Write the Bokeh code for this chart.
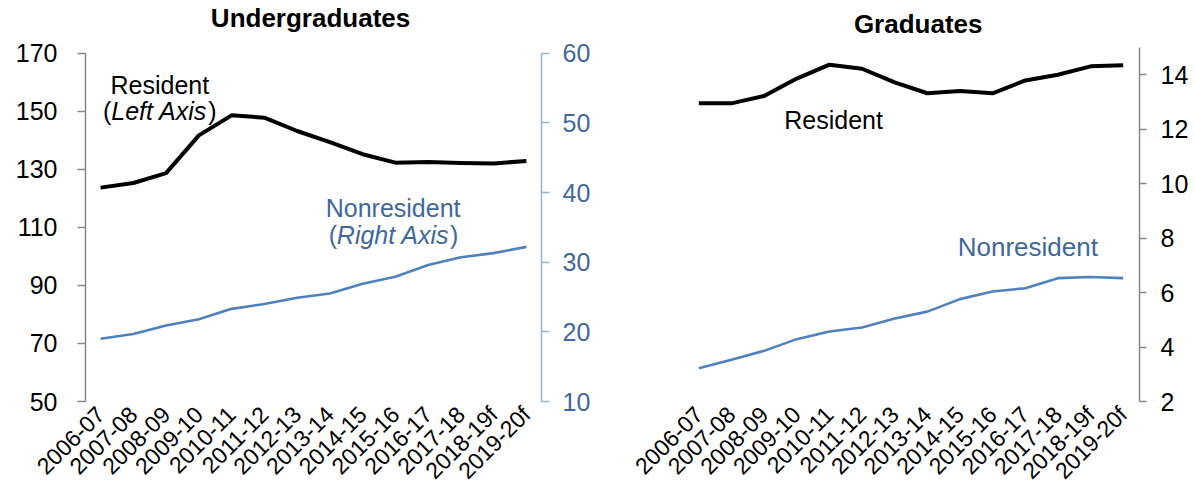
import math
from bokeh.plotting import figure
from bokeh.models import Range1d, LinearAxis, FixedTicker, Label
from bokeh.layouts import row
from bokeh.embed import file_html
from bokeh.resources import INLINE

# ---- data ----
years = ["2006-07", "2007-08", "2008-09", "2009-10", "2010-11", "2011-12", "2012-13",
         "2013-14", "2014-15", "2015-16", "2016-17", "2017-18", "2018-19f", "2019-20f"]
ug_resident = [123.7, 125.3, 128.7, 141.7, 148.6, 147.8, 143.2, 139.4, 135.2, 132.3,
               132.5, 132.2, 132.0, 132.9]
ug_nonresident = [19.0, 19.7, 20.9, 21.8, 23.3, 24.0, 24.9, 25.5, 26.9, 27.9, 29.6,
                  30.7, 31.3, 32.2]
gr_resident = [12.95, 12.95, 13.22, 13.86, 14.37, 14.22, 13.72, 13.32, 13.40, 13.32,
               13.79, 14.0, 14.31, 14.35]
gr_nonresident = [3.22, 3.53, 3.86, 4.29, 4.57, 4.72, 5.05, 5.30, 5.76, 6.04, 6.16,
                  6.53, 6.57, 6.53]
ug_left_ticks = [50, 70, 90, 110, 130, 150, 170]
ug_right_ticks = [10, 20, 30, 40, 50, 60]
gr_ticks = [2, 4, 6, 8, 10, 12, 14]
titles = ["Undergraduates", "Graduates"]

FONT = "Liberation Sans"
BLACK = "#000000"
BLUE = "#4F81BD"
BLUE_TEXT = "#41689C"
BLUE_AXIS = "#95B3D7"
GREY = "#868686"
xs = list(range(len(years)))
LIFT = 9  # pixels: baseline correction for labels


def style_common(p):
    p.outline_line_color = None
    p.xgrid.visible = False
    p.ygrid.visible = False
    p.background_fill_color = "white"
    p.border_fill_color = "white"
    xa = p.xaxis[0]
    xa.ticker = FixedTicker(ticks=xs)
    xa.major_label_overrides = {i: y for i, y in enumerate(years)}
    xa.major_label_orientation = math.pi / 4
    xa.axis_line_color = None
    xa.major_tick_line_color = None
    xa.minor_tick_line_color = None
    xa.major_label_text_font = FONT
    xa.major_label_text_font_size = "23px"
    xa.major_label_text_color = BLACK
    xa.major_label_standoff = 3


def style_y(ax, ticks, bounds, line_color, label_color, tick_out, standoff):
    ax.ticker = FixedTicker(ticks=ticks)
    ax.bounds = bounds
    ax.axis_line_color = line_color
    ax.axis_line_width = 1.5
    ax.major_tick_line_color = line_color
    ax.major_tick_line_width = 1.5
    ax.major_tick_in = 0
    ax.major_tick_out = tick_out
    ax.minor_tick_line_color = None
    ax.major_label_text_font = FONT
    ax.major_label_text_font_size = "25px"
    ax.major_label_text_color = label_color
    ax.major_label_standoff = standoff


def add_text(p, x, y, text, color, style="normal", align="center", x_offset=0,
             size="25px"):
    p.add_layout(Label(x=x, y=y, text=text, text_align=align, text_baseline="alphabetic",
                       text_font=FONT, text_font_size=size, text_font_style=style,
                       text_color=color, x_offset=x_offset, y_offset=LIFT))


def add_paren_text(p, x, y, inner, color, inner_width):
    half = inner_width / 2.0
    add_text(p, x, y, inner, color, style="italic", align="center")
    add_text(p, x, y, "(", color, align="right", x_offset=-half)
    add_text(p, x, y, ")", color, align="left", x_offset=half + 1)


# ---- Undergraduates ----
# frame spans the full height above the axis; axis lines are bounded to the data span
p1 = figure(width=600, height=499, output_backend="svg", toolbar_location=None,
            x_range=Range1d(-0.46, 13.46), y_range=Range1d(50, 188.17),
            min_border_left=85, min_border_right=59, min_border_top=0,
            min_border_bottom=96)
p1.extra_y_ranges = {"right": Range1d(10, 67.57)}
style_common(p1)
style_y(p1.yaxis[0], ug_left_ticks, (50, 170), GREY, BLACK, 8, 20)
ax_r = LinearAxis(y_range_name="right")
style_y(ax_r, ug_right_ticks, (10, 60), BLUE_AXIS, BLUE_TEXT, 8, 13)
p1.add_layout(ax_r, "right")

p1.line(xs, ug_resident, line_color=BLACK, line_width=4, line_join="round")
p1.line(xs, ug_nonresident, line_color=BLUE, line_width=2.6, line_join="round",
        y_range_name="right")

add_text(p1, 6.41, 179.0, titles[0], BLACK, style="bold", size="26px")
add_text(p1, 1.81, 156.1, "Resident", BLACK)
add_paren_text(p1, 1.79, 146.9, "Left Axis", BLACK, 96)
add_text(p1, 8.93, 113.6, "Nonresident", BLUE_TEXT)
add_paren_text(p1, 8.93, 104.1, "Right Axis", BLUE_TEXT, 112)

# ---- Graduates ----
p2 = figure(width=595, height=499, output_backend="svg", toolbar_location=None,
            x_range=Range1d(-0.5, 13.5), y_range=Range1d(2, 16.727), y_axis_location="right",
            min_border_left=82, min_border_right=56, min_border_top=0,
            min_border_bottom=98)
style_common(p2)
style_y(p2.yaxis[0], gr_ticks, (2, 15), GREY, BLACK, 7, 14)

p2.line(xs, gr_resident, line_color=BLACK, line_width=4, line_join="round")
p2.line(xs, gr_nonresident, line_color=BLUE, line_width=2.6, line_join="round")

add_text(p2, 6.72, 15.55, titles[1], BLACK, style="bold", size="26px")
add_text(p2, 4.13, 12.0, "Resident", BLACK)
add_text(p2, 10.08, 7.34, "Nonresident", BLUE_TEXT, size="26px")

layout = row(p1, p2)
open("out.html", "w").write(file_html(layout, INLINE))
